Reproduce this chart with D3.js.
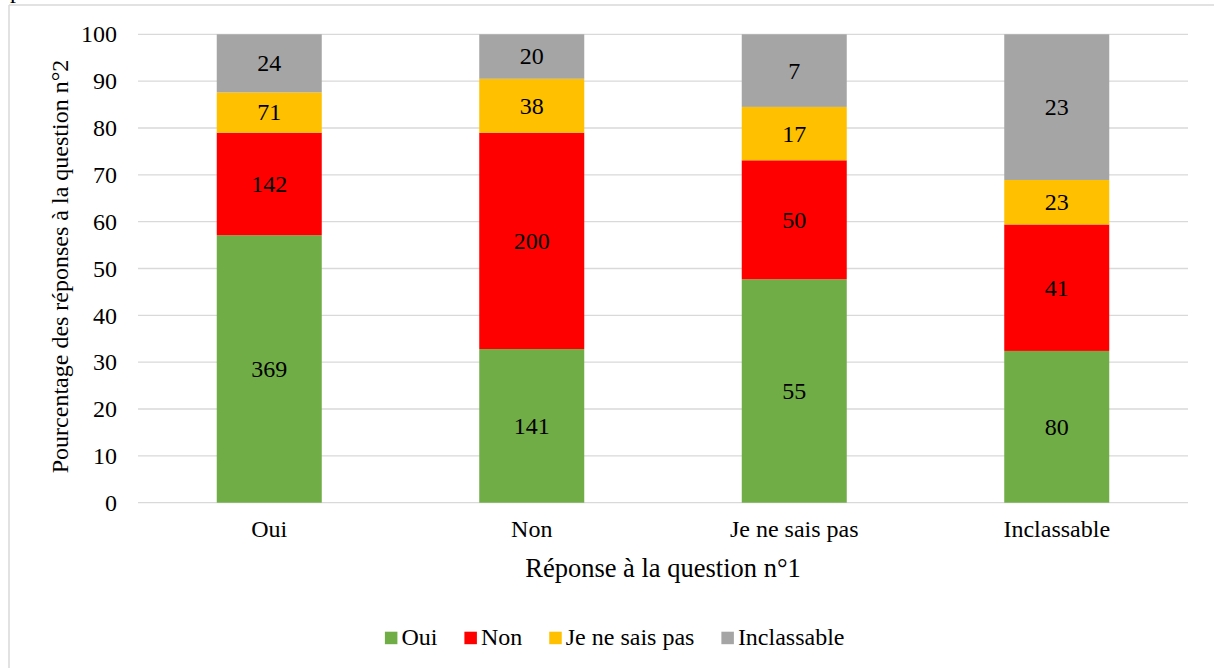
<!DOCTYPE html>
<html>
<head>
<meta charset="utf-8">
<script src="https://cdn.jsdelivr.net/npm/d3@7"></script>
<style>
  html, body { margin: 0; padding: 0; background: #ffffff; }
  svg { display: block; }
  text { font-family: "Liberation Serif", "Times New Roman", serif; fill: #000; }
</style>
</head>
<body>
<svg id="chart" width="1214" height="668"></svg>
<script>
// Categories (x axis: answer to question 1)
const categories = ["Oui", "Non", "Je ne sais pas", "Inclassable"];
// Series (answer to question 2)
const seriesNames = ["Oui", "Non", "Je ne sais pas", "Inclassable"];
const seriesColors = ["#70ad47", "#ff0000", "#ffc000", "#a5a5a5"];

// Percentages (bar heights)
const pctOui  = [57.1, 32.8, 47.7, 32.4];
const pctNon  = [21.9, 46.2, 25.4, 27.0];
const pctJnsp = [8.6, 11.5, 11.4, 9.5];
const pctIncl = [12.4, 9.5, 15.5, 31.1];

// Counts (labels shown inside segments)
const countOui  = [369, 141, 55, 80];
const countNon  = [142, 200, 50, 41];
const countJnsp = [71, 38, 17, 23];
const countIncl = [24, 20, 7, 23];

const yTicks = [0, 10, 20, 30, 40, 50, 60, 70, 80, 90, 100];
const yTitle = "Pourcentage des réponses à la question n°2";
const xTitle = "Réponse à la question n°1";

const pctSeries = [pctOui, pctNon, pctJnsp, pctIncl];
const countSeries = [countOui, countNon, countJnsp, countIncl];

const rows = categories.map((c, i) => {
  const r = { cat: c };
  seriesNames.forEach((s, j) => { r[s] = pctSeries[j][i]; r["n_" + s] = countSeries[j][i]; });
  return r;
});

const svg = d3.select("#chart");
const W = 1214, H = 668;
const plot = { left: 138, right: 1188, top: 34.3, bottom: 502.7 };
const FS = 24;

// outer frame (top and left edges visible)
svg.append("line").attr("x1", 9).attr("x2", W).attr("y1", 5).attr("y2", 5)
  .attr("stroke", "#d9d9d9").attr("stroke-width", 1.5);
svg.append("line").attr("x1", 9).attr("x2", 9).attr("y1", 5).attr("y2", H)
  .attr("stroke", "#d9d9d9").attr("stroke-width", 1.5);

// cut-off text above the chart
svg.append("text").attr("x", 10).attr("y", -2).attr("font-size", FS).text("p");

const x = d3.scaleBand().domain(categories).range([plot.left, plot.right])
  .paddingInner(0.6).paddingOuter(0.3);
const y = d3.scaleLinear().domain([0, 100]).range([plot.bottom, plot.top]);

// gridlines
svg.append("g").selectAll("line").data(yTicks).join("line")
  .attr("x1", plot.left).attr("x2", plot.right)
  .attr("y1", d => y(d)).attr("y2", d => y(d))
  .attr("stroke", "#d9d9d9").attr("stroke-width", 1.3);

// stacked bars
const stack = d3.stack().keys(seriesNames)(rows);
const layers = svg.append("g").selectAll("g").data(stack).join("g")
  .attr("fill", (d, i) => seriesColors[i]);
layers.selectAll("rect").data(d => d).join("rect")
  .attr("x", d => x(d.data.cat))
  .attr("width", x.bandwidth())
  .attr("y", d => y(d[1]))
  .attr("height", d => y(d[0]) - y(d[1]));

// segment labels
const labG = svg.append("g");
stack.forEach((layer, j) => {
  labG.selectAll(null).data(layer).join("text")
    .attr("x", d => x(d.data.cat) + x.bandwidth() / 2)
    .attr("y", d => y((d[0] + d[1]) / 2))
    .attr("dy", "0.33em")
    .attr("text-anchor", "middle")
    .attr("font-size", FS)
    .text(d => d.data["n_" + seriesNames[j]]);
});

// y axis
const yAxis = svg.append("g").attr("transform", `translate(${plot.left},0)`)
  .call(d3.axisLeft(y).tickValues(yTicks).tickSize(0).tickPadding(21));
yAxis.select(".domain").remove();
yAxis.selectAll("text").attr("font-size", FS).attr("font-family", "Liberation Serif").attr("fill", "#000");

// x axis
const xAxis = svg.append("g").attr("transform", `translate(0,${plot.bottom})`)
  .call(d3.axisBottom(x).tickSize(0).tickPadding(17));
xAxis.select(".domain").remove();
xAxis.selectAll("text").attr("font-size", FS).attr("font-family", "Liberation Serif").attr("fill", "#000");

// axis titles
svg.append("text")
  .attr("transform", `translate(68,${(plot.top + plot.bottom) / 2 - 2}) rotate(-90)`)
  .attr("text-anchor", "middle").attr("font-size", FS).text(yTitle);
svg.append("text")
  .attr("x", (plot.left + plot.right) / 2).attr("y", 577)
  .attr("text-anchor", "middle").attr("font-size", 26.5).text(xTitle);

// legend
const legend = svg.append("g");
const items = legend.selectAll("g").data(seriesNames).join("g");
items.append("rect").attr("width", 12.5).attr("height", 12.5).attr("y", 631.7)
  .attr("fill", (d, i) => seriesColors[i]);
items.append("text").attr("x", 16.5).attr("y", 645).attr("font-size", FS).text(d => d);
let cx = 0;
const offsets = [];
const gap = 27;
items.each(function () {
  const w = d3.select(this).select("text").node().getComputedTextLength();
  offsets.push(cx);
  cx += 16.5 + w + gap;
});
const total = cx - gap;
const start = 614.7 - total / 2;
items.attr("transform", (d, i) => `translate(${start + offsets[i]},0)`);
</script>
</body>
</html>
